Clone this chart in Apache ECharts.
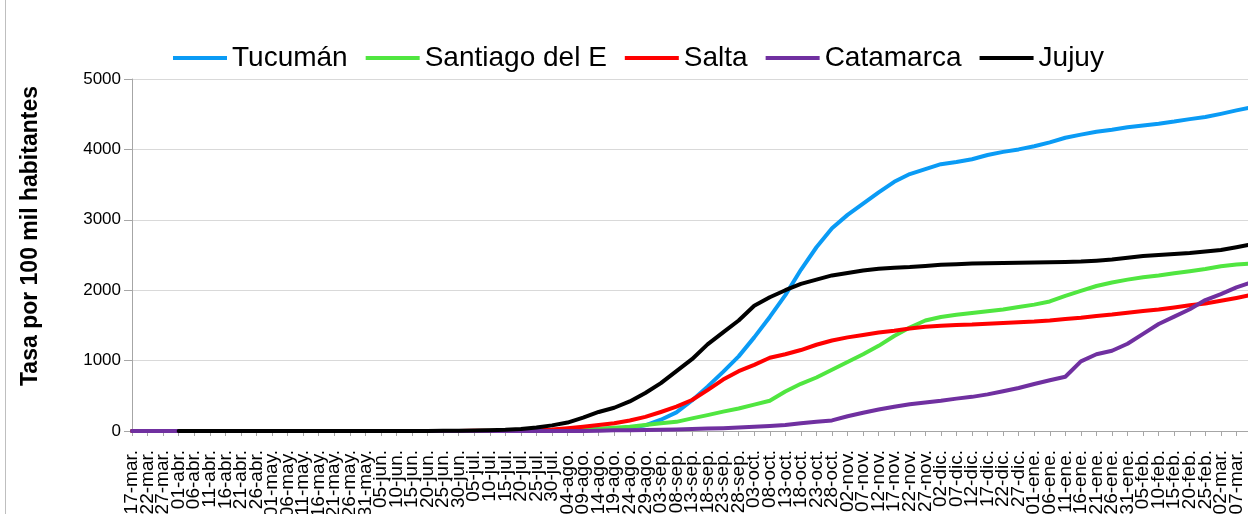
<!DOCTYPE html>
<html>
<head>
<meta charset="utf-8">
<script src="https://cdn.jsdelivr.net/npm/echarts@6/dist/echarts.min.js"></script>
<style>
  html, body { margin: 0; padding: 0; background: #fff; overflow: hidden; }
  #marco { position: absolute; left: 5px; top: 0; width: 1px; height: 514px; background: #bfbfbf; }
  #main { position: absolute; left: 0; top: 0; width: 1252px; height: 514px; }
</style>
</head>
<body>
<div id="marco"></div>
<div id="main"></div>
<script>
// fechas cada 5 dias (17-mar-2020 .. 12-mar-2021)
var fechas = ['17-mar.','22-mar.','27-mar.','01-abr.','06-abr.','11-abr.','16-abr.','21-abr.','26-abr.',
  '01-may.','06-may.','11-may.','16-may.','21-may.','26-may.','31-may.','05-jun.','10-jun.','15-jun.',
  '20-jun.','25-jun.','30-jun.','05-jul.','10-jul.','15-jul.','20-jul.','25-jul.','30-jul.','04-ago.',
  '09-ago.','14-ago.','19-ago.','24-ago.','29-ago.','03-sep.','08-sep.','13-sep.','18-sep.','23-sep.',
  '28-sep.','03-oct.','08-oct.','13-oct.','18-oct.','23-oct.','28-oct.','02-nov.','07-nov.','12-nov.',
  '17-nov.','22-nov.','27-nov.','02-dic.','07-dic.','12-dic.','17-dic.','22-dic.','27-dic.','01-ene.',
  '06-ene.','11-ene.','16-ene.','21-ene.','26-ene.','31-ene.','05-feb.','10-feb.','15-feb.','20-feb.',
  '25-feb.','02-mar.','07-mar.','12-mar.'];

var tucuman = [0,0,0,0,0,0,0,0,0,0,0,0,0,0,0,0,0,0,0,0,0,0,1,2,3,5,7,10,14,20,30,40,45,80,160,265,435,630,840,1060,
  1330,1620,1930,2290,2610,2880,3070,3230,3390,3540,3650,3720,3790,3820,3860,3920,3965,4000,4045,4100,
  4165,4210,4250,4280,4315,4340,4365,4395,4430,4460,4505,4555,4600];

var santiago = [0,0,0,0,0,0,0,0,0,0,0,0,0,0,0,0,0,0,0,0,0,0,1,2,3,4,6,8,10,20,30,45,60,85,110,130,180,225,275,320,
  375,430,560,670,760,870,980,1090,1210,1350,1470,1570,1620,1650,1675,1700,1725,1760,1795,1840,
  1920,1990,2060,2110,2150,2185,2210,2240,2270,2300,2340,2365,2380];

var salta = [0,0,0,0,0,0,0,0,0,0,0,0,0,0,0,0,0,0,0,0,0,1,2,3,4,6,10,20,38,60,85,110,150,200,270,345,440,580,730,850,
  940,1040,1090,1150,1225,1285,1330,1365,1400,1425,1455,1480,1495,1505,1512,1525,1535,1545,1555,1570,
  1590,1610,1635,1655,1680,1705,1725,1755,1785,1810,1850,1890,1935];

var catamarca = [0,0,0,0,0,0,0,0,0,0,0,0,0,0,0,0,0,0,0,0,0,0,0,0,0,0,0,0,0,0,5,10,12,15,18,22,28,35,40,48,
  60,72,85,110,130,150,210,260,305,345,380,405,430,460,485,520,565,610,668,720,
  771,990,1090,1140,1240,1380,1520,1625,1730,1860,1945,2040,2115];

var jujuy = ['-','-','-',0,0,0,0,0,0,0,0,0,0,0,0,0,0,0,0,1,2,5,8,12,18,30,50,80,120,190,270,330,420,540,680,850,1020,1230,1400,1570,
  1780,1900,2000,2090,2150,2210,2245,2280,2305,2320,2330,2345,2360,2370,2378,2383,2386,2390,2393,2397,
  2402,2408,2420,2435,2460,2485,2500,2515,2530,2550,2570,2610,2655];

var fuente = 'Liberation Sans, Arial, sans-serif';

function serie(nombre, datos, color) {
  return {
    name: nombre,
    type: 'line',
    data: datos,
    symbol: 'none',
    lineStyle: { color: color, width: 4, cap: 'round', join: 'round' },
    itemStyle: { color: color }
  };
}

var myChart = echarts.init(document.getElementById('main'));
myChart.setOption({
  animation: false,
  textStyle: { fontFamily: fuente },
  grid: { left: 132, right: 0, top: 79, bottom: 83, outerBoundsMode: 'none' },
  legend: {
    left: 168,
    top: 39,
    icon: 'rect',
    itemWidth: 54,
    itemHeight: 4,
    itemGap: 18,
    selectedMode: false,
    textStyle: { fontSize: 28, color: '#000', fontFamily: fuente, lineHeight: 28 }
  },
  xAxis: {
    type: 'category',
    data: fechas,
    boundaryGap: false,
    axisLine: { lineStyle: { color: '#a6a6a6', width: 1 } },
    axisTick: { show: true, interval: 0, length: 5, lineStyle: { color: '#a6a6a6' } },
    axisLabel: {
      interval: 0,
      showMinLabel: true,
      hideOverlap: false,
      rotate: 90, margin: 19, fontSize: 19, color: '#000', fontFamily: fuente,
      formatter: function (v, i) { return i === fechas.length - 1 ? '' : v; }
    }
  },
  yAxis: {
    type: 'value',
    min: 0,
    max: 5000,
    interval: 1000,
    axisLine: { show: true, lineStyle: { color: '#a6a6a6', width: 1 } },
    axisTick: { show: true, length: 8, lineStyle: { color: '#a6a6a6' } },
    axisLabel: {
      margin: 11, fontSize: 17, color: '#000', fontFamily: fuente,
      formatter: function (v) { return String(v); }
    },
    splitLine: { lineStyle: { color: '#d9d9d9', width: 1 } }
  },
  graphic: [{
    type: 'text',
    x: 31,
    y: 236,
    rotation: Math.PI / 2,
    style: {
      text: 'Tasa por 100 mil habitantes',
      font: 'bold 23px ' + fuente,
      fill: '#000',
      textAlign: 'center',
      textVerticalAlign: 'middle'
    }
  }],
  series: [
    serie('Tucumán', tucuman, '#0a9bf5'),
    serie('Santiago del E', santiago, '#50e640'),
    serie('Salta', salta, '#ff0000'),
    serie('Catamarca', catamarca, '#7030a0'),
    serie('Jujuy', jujuy, '#000000')
  ]
});
</script>
</body>
</html>
